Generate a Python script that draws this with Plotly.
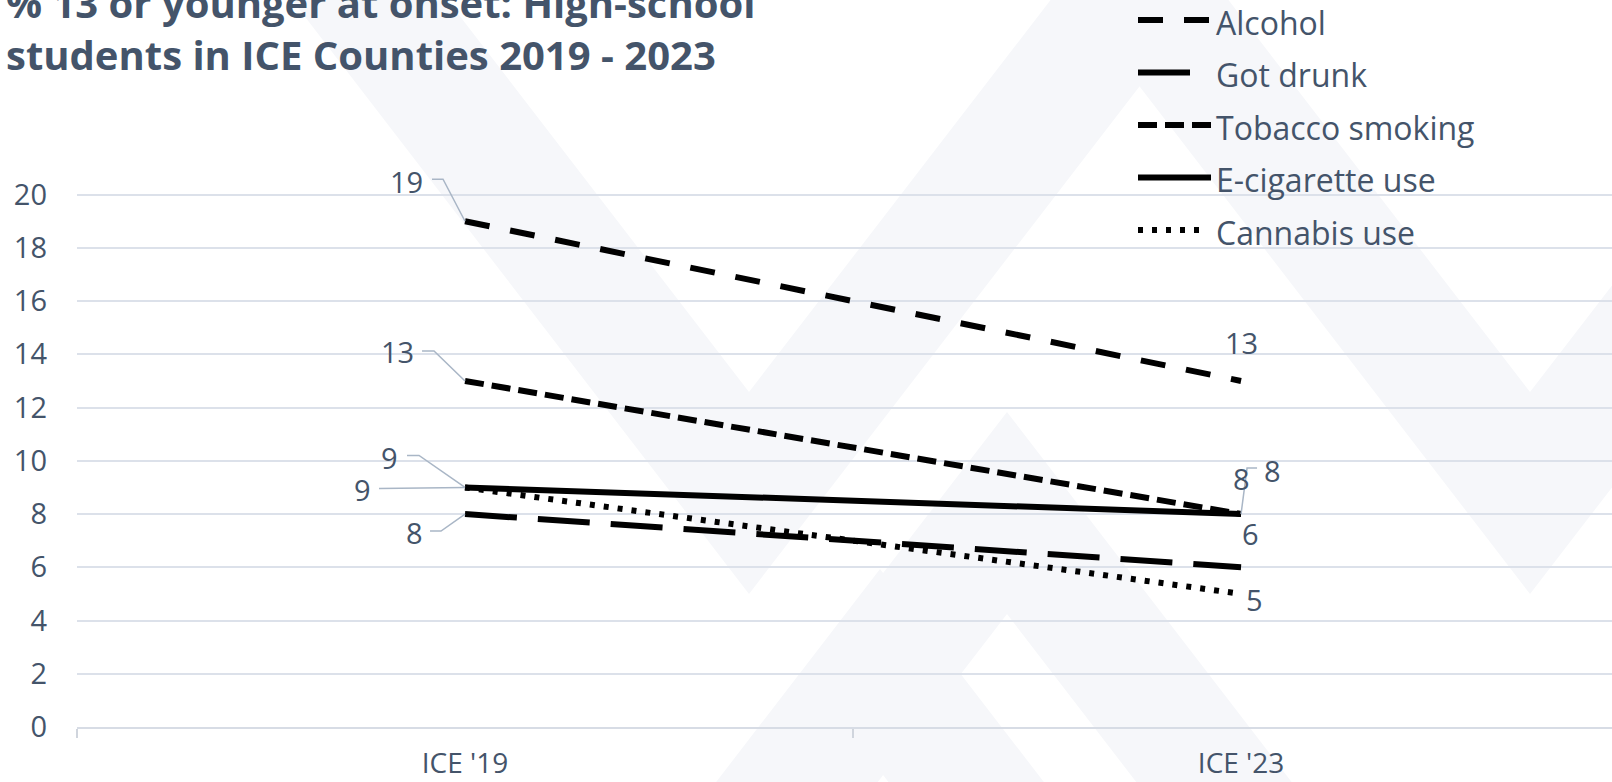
import plotly.graph_objects as go

# ---------------- data ----------------
categories = ["ICE '19", "ICE '23"]
series_names = ["Alcohol", "Got drunk", "Tobacco smoking", "E-cigarette use", "Cannabis use"]
alcohol = [19, 13]
got_drunk = [8, 6]
tobacco_smoking = [13, 8]
ecig_use = [9, 8]
cannabis_use = [9, 5]
y_tick_values = [0, 2, 4, 6, 8, 10, 12, 14, 16, 18, 20]
title_lines = ["% 13 or younger at onset: High-school", "students in ICE Counties 2019 - 2023"]

series_values = [alcohol, got_drunk, tobacco_smoking, ecig_use, cannabis_use]

# ---------------- layout geometry / styles ----------------
W, H = 1612, 782
ML, MR, MT, MB = 77, 0, 168, 55
PW, PH = W - ML - MR, H - MT - MB
TEXT = "#44546A"
FONT = "Open Sans"
LINE_W = 6
dash_styles = ["25px,21px", "52px,21px", "19px,8px", "solid", "5px,9px"]


def px(x):
    return (x - ML) / PW


def py(y):
    return (H - MB - y) / PH


fig = go.Figure()

for name, vals, dash in zip(series_names, series_values, dash_styles):
    fig.add_trace(go.Scatter(
        x=categories, y=vals, mode="lines", name=name, showlegend=False,
        line=dict(color="black", width=LINE_W, dash=dash),
        hoverinfo="x+y+name",
    ))

shapes = []
annotations = []

# ---- faint watermark chevrons (decoration) ----
WM = "#F6F7FA"
S = 1.3


def v_band(cx, y_out, y_in, y_end):
    return [
        (cx - (y_out - y_end) / S, y_end), (cx, y_out), (cx + (y_out - y_end) / S, y_end),
        (cx + (y_in - y_end) / S, y_end), (cx, y_in), (cx - (y_in - y_end) / S, y_end),
    ]


def lam_band(cx, y_out, y_in, y_end):
    return [
        (cx - (y_end - y_out) / S, y_end), (cx, y_out), (cx + (y_end - y_out) / S, y_end),
        (cx + (y_end - y_in) / S, y_end), (cx, y_in), (cx - (y_end - y_in) / S, y_end),
    ]


for pts in [v_band(749, 594, 392, -5), v_band(1530, 594, 392, -5),
            lam_band(1007, 412, 614, 790), lam_band(880, 569, 771, 790)]:
    path = "M " + " L ".join(f"{px(x):.5f},{py(y):.5f}" for x, y in pts) + " Z"
    shapes.append(dict(type="path", xref="paper", yref="paper", path=path,
                       fillcolor=WM, line=dict(width=0), layer="below"))

# ---- data labels with leader lines (offsets in screen px) ----
label_cfg = {
    (0, 0): (-59, -40, [(-22, -42), (-33, -42)]),
    (0, 1): (0, -38, None),
    (1, 0): (-51, 18, [(-24, 17), (-35, 17)]),
    (1, 1): (9, -34, None),
    (2, 0): (-68, -29, [(-31, -30), (-43, -30)]),
    (2, 1): (0, -36, None),
    (3, 0): (-76, -30, [(-46, -32), (-58, -32)]),
    (3, 1): (31, -44, [(6, -46), (16, -46)]),
    (4, 0): (-103, 2, [(-86, 1)]),
    (4, 1): (13, 6, None),
}
LEADER = "#A9B6C6"
for si, vals in enumerate(series_values):
    for ci, cat in enumerate(categories):
        dx, dy, leader = label_cfg[(si, ci)]
        annotations.append(dict(
            x=cat, y=vals[ci], xref="x", yref="y", text=str(vals[ci]), showarrow=False,
            xshift=dx, yshift=-dy, xanchor="center", yanchor="middle",
            font=dict(family=FONT, size=29, color=TEXT),
        ))
        if leader:
            path = "M 0,0 " + " ".join(f"L {a},{-b}" for a, b in leader)
            shapes.append(dict(type="path", xref="x", yref="y", xsizemode="pixel",
                               ysizemode="pixel", xanchor=ci, yanchor=vals[ci], path=path,
                               line=dict(color=LEADER, width=1.5)))

# ---- legend (drawn manually to match long line samples) ----
LEG_X0, LEG_TX = 1138, 1214
leg_line_end = [1211, 1190, 1211, 1211, 1200]
for i, (name, dash) in enumerate(zip(series_names, dash_styles)):
    yy = 20 + i * 52.5
    shapes.append(dict(type="line", xref="paper", yref="paper",
                       x0=px(LEG_X0), x1=px(leg_line_end[i]), y0=py(yy), y1=py(yy),
                       line=dict(color="black", width=LINE_W, dash=dash)))
    annotations.append(dict(x=px(LEG_TX), y=py(yy + 2), xref="paper", yref="paper",
                            text=name, showarrow=False, xanchor="left", yanchor="middle",
                            font=dict(family=FONT, size=32, color=TEXT)))

# ---- title ----
annotations.append(dict(
    x=px(4), y=py(84), xref="paper", yref="paper", xanchor="left", yanchor="bottom",
    align="left", showarrow=False,
    text="<b>" + "<br>".join(title_lines) + "</b>",
    font=dict(family=FONT, size=40, color=TEXT),
))

fig.update_layout(
    width=W, height=H,
    margin=dict(l=ML, r=MR, t=MT, b=MB, pad=0, autoexpand=False),
    paper_bgcolor="white", plot_bgcolor="rgba(0,0,0,0)",
    shapes=shapes, annotations=annotations, showlegend=False,
    xaxis=dict(type="category", range=[-0.5, 1.478], tickson="boundaries",
               ticks="outside", ticklen=9, tickwidth=1.5, tickcolor="#D0D5DD",
               showgrid=False, showline=True, linecolor="#D7DCE5", linewidth=2,
               tickfont=dict(family=FONT, size=28, color=TEXT), ticklabelstandoff=10,
               automargin=False, fixedrange=True),
    yaxis=dict(range=[0, 21], tickmode="array", tickvals=y_tick_values,
               showgrid=True, gridcolor="#DCE1EA", gridwidth=2, zeroline=False,
               showline=False, ticks="", ticklabelstandoff=29,
               tickfont=dict(family=FONT, size=29, color=TEXT),
               automargin=False, fixedrange=True),
)

fig.write_html("out.html", config={"displayModeBar": False},
               post_script="document.body.style.margin='0px';")
